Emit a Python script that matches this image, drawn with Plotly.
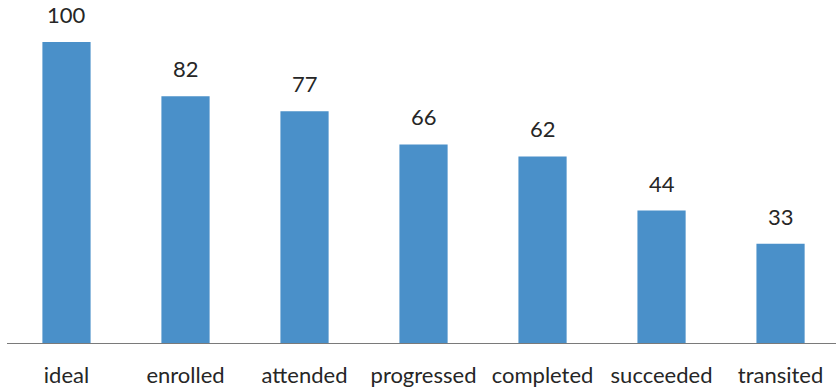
import plotly.graph_objects as go

stages = ["ideal", "enrolled", "attended", "progressed", "completed", "succeeded", "transited"]
counts = [100, 82, 77, 66, 62, 44, 33]

bar_color = "#4a90c9"
text_color = "#262626"
font_family = "Lato, 'Open Sans', sans-serif"
font_size = 22

fig = go.Figure(
    go.Bar(
        x=stages,
        y=counts,
        marker=dict(color=bar_color, line=dict(width=0)),
        width=0.405,
        hoverinfo="skip",
    )
)

# value labels floating above each bar
for s, v in zip(stages, counts):
    fig.add_annotation(
        x=s, y=v, text=str(v), showarrow=False,
        yanchor="bottom", yshift=12,
        font=dict(family=font_family, size=font_size, color=text_color),
    )

fig.update_layout(
    width=836, height=389,
    margin=dict(l=7, r=0, t=0, b=46),
    paper_bgcolor="white", plot_bgcolor="white",
    showlegend=False,
    bargap=0.6,
    font=dict(family=font_family, size=font_size, color=text_color),
    xaxis=dict(
        range=[-0.5, 6.466],
        showline=True, linecolor="#7a7a7a", linewidth=1.2,
        showgrid=False, zeroline=False, ticks="",
        ticklabelstandoff=12,
        tickfont=dict(family=font_family, size=font_size, color=text_color),
        fixedrange=True,
    ),
    yaxis=dict(
        range=[0, 114], visible=False, showgrid=False, zeroline=False,
        fixedrange=True,
    ),
)

fig.write_html("out.html")
